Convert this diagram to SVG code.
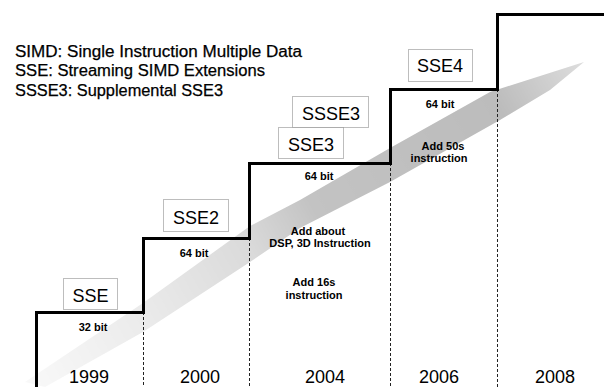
<svg xmlns="http://www.w3.org/2000/svg" width="604" height="387" viewBox="0 0 604 387">
  <style>
    .legend { font-family: "Liberation Sans", Arial, sans-serif; font-size: 16px; fill: #000; stroke: #000; stroke-width: 0.25; }
    .tag rect { fill: #fff; stroke: #7a7a7a; stroke-width: 1; stroke-dasharray: 1 1; }
    .tag text { font-family: "Liberation Sans", Arial, sans-serif; font-size: 18px; fill: #000; text-anchor: middle; }
    .year { font-family: "Liberation Sans", Arial, sans-serif; font-size: 18px; fill: #000; text-anchor: middle; }
    .note { font-family: "Liberation Sans", Arial, sans-serif; font-size: 11px; font-weight: bold; fill: #000; text-anchor: middle; }
    .stair { fill: none; stroke: #000; stroke-width: 3; stroke-linejoin: miter; }
    .divider { stroke: #222; stroke-width: 1; stroke-dasharray: 3 2; }
  </style>
  <defs>
    <linearGradient id="fadeGrad" gradientUnits="userSpaceOnUse" x1="30" y1="380" x2="584" y2="62">
      <stop offset="0" stop-color="#fff" stop-opacity="0.1"/>
      <stop offset="0.2" stop-color="#fff" stop-opacity="0.3"/>
      <stop offset="0.4" stop-color="#fff" stop-opacity="0.55"/>
      <stop offset="0.52" stop-color="#fff" stop-opacity="0.9"/>
      <stop offset="0.85" stop-color="#fff" stop-opacity="1"/>
      <stop offset="1" stop-color="#fff" stop-opacity="0.5"/>
    </linearGradient>
    <mask id="fade" maskUnits="userSpaceOnUse" x="0" y="0" width="604" height="387">
      <rect x="0" y="0" width="604" height="387" fill="url(#fadeGrad)"/>
    </mask>
  </defs>

  <rect x="0" y="0" width="604" height="387" fill="#fff"/>

  <!-- growth band rising left to right -->
  <polygon id="band" mask="url(#fade)" fill="#bcbcbc"
    points="25,382 143,303 250,226 300,200 390,148 490,92 584,62 550,90 500,120 390,182 300,228 250,262 143,332 45,387"/>

  <!-- legend -->
  <g id="legend">
    <text class="legend" x="15" y="57" textLength="287" lengthAdjust="spacingAndGlyphs">SIMD: Single Instruction Multiple Data</text>
    <text class="legend" x="15" y="76" textLength="250" lengthAdjust="spacingAndGlyphs">SSE: Streaming SIMD Extensions</text>
    <text class="legend" x="15" y="96" textLength="208" lengthAdjust="spacingAndGlyphs">SSSE3: Supplemental SSE3</text>
  </g>

  <!-- staircase and year dividers -->
  <g id="connectors">
    <line class="divider" x1="143.5" y1="312" x2="143.5" y2="387"/>
    <line class="divider" x1="249.5" y1="238" x2="249.5" y2="387"/>
    <line class="divider" x1="390.5" y1="163" x2="390.5" y2="387"/>
    <line class="divider" x1="497.5" y1="89" x2="497.5" y2="387"/>
    <path class="stair" d="M36.5,388 V312.5 H143.5 V238.5 H249.5 V163.5 H390.5 V89.5 H497.5 V14.5 H605"/>
  </g>

  <!-- release tags -->
  <g id="sse" class="tag">
    <rect x="63.5" y="278.5" width="54" height="31"/>
    <text x="90.5" y="302">SSE</text>
  </g>
  <g id="sse2" class="tag">
    <rect x="163.5" y="199.5" width="65" height="32"/>
    <text x="196" y="224">SSE2</text>
  </g>
  <g id="ssse3" class="tag">
    <rect x="292.5" y="96.5" width="76" height="31"/>
    <text x="331" y="120">SSSE3</text>
  </g>
  <g id="sse3" class="tag">
    <rect x="278.5" y="127.5" width="65" height="31"/>
    <text x="311" y="151">SSE3</text>
  </g>
  <g id="sse4" class="tag">
    <rect x="408.5" y="49.5" width="64" height="32"/>
    <text x="440" y="72">SSE4</text>
  </g>

  <!-- per-period notes -->
  <g id="notes">
    <text class="note" x="93" y="331">32 bit</text>
    <text class="note" x="194" y="257">64 bit</text>
    <text class="note" x="319" y="180">64 bit</text>
    <text class="note" x="440" y="108">64 bit</text>
    <text class="note" x="318" y="235">Add about</text>
    <text class="note" x="320" y="247">DSP, 3D Instruction</text>
    <text class="note" x="314" y="286">Add 16s</text>
    <text class="note" x="314" y="299">instruction</text>
    <text class="note" x="443" y="150">Add 50s</text>
    <text class="note" x="439" y="162">instruction</text>
  </g>

  <!-- years -->
  <g id="years">
    <text class="year" x="89" y="383">1999</text>
    <text class="year" x="200" y="383">2000</text>
    <text class="year" x="325" y="383">2004</text>
    <text class="year" x="439" y="383">2006</text>
    <text class="year" x="555" y="383">2008</text>
  </g>
</svg>
